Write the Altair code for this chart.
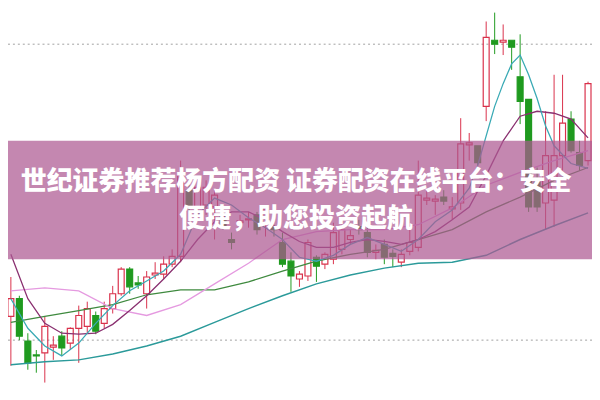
import altair as alt
import pandas as pd

# ---- candle data (price units) ----
opens = [9.24, 9.42, 8.99, 8.85, 8.87, 8.93, 9.04, 8.97, 9.12, 9.14,
         9.25, 9.17, 9.32, 9.47, 9.72, 9.58, 9.47, 9.66, 9.67, 9.77,
         9.85, 10.52, 10.35, 10.37, 10.35, 10.27, 10.02, 10.19, 10.22, 10.27,
         10.19, 10.15, 9.99, 9.80, 9.62, 9.65, 9.84, 9.77, 9.82, 9.92,
         10.02, 10.15, 10.09, 9.89, 9.97, 9.88, 9.79, 9.90, 9.94, 10.42,
         10.41, 10.45, 10.33, 10.39, 10.98, 10.97, 11.37, 12.04, 12.02, 12.04,
         11.67, 11.44, 10.60, 10.39, 10.42, 10.87, 11.24, 10.90, 10.82]
closes = [9.42, 9.04, 8.77, 8.84, 9.14, 8.95, 8.92, 9.12, 9.25, 9.32,
          9.09, 9.32, 9.47, 9.72, 9.54, 9.56, 9.64, 9.68, 9.77, 9.85,
          10.67, 10.35, 10.55, 10.55, 10.47, 10.15, 9.99, 10.21, 10.23, 10.12,
          10.32, 10.12, 9.77, 9.65, 9.67, 9.99, 9.75, 9.87, 10.09, 10.12,
          10.06, 10.12, 9.89, 9.91, 9.84, 9.85, 9.87, 9.99, 10.47, 10.44,
          10.43, 10.41, 10.35, 10.99, 11.00, 10.80, 12.07, 12.00, 12.04, 11.97,
          11.42, 10.35, 10.35, 10.87, 10.87, 11.20, 10.92, 10.77, 11.60]
highs = [9.64, 9.45, 9.07, 8.90, 9.24, 9.04, 9.09, 9.13, 9.35, 9.39,
         9.29, 9.39, 9.55, 9.74, 9.74, 9.65, 9.70, 9.79, 9.85, 9.92,
         10.82, 10.59, 10.64, 10.62, 10.52, 10.32, 10.09, 10.27, 10.30, 10.30,
         10.34, 10.17, 10.09, 9.89, 9.70, 10.02, 9.86, 9.89, 10.19, 10.17,
         10.12, 10.22, 10.14, 9.97, 10.02, 9.92, 9.92, 10.12, 10.82, 10.52,
         10.47, 10.52, 10.45, 11.25, 11.10, 10.97, 12.23, 12.32, 12.20, 12.04,
         12.10, 11.44, 10.75, 11.32, 11.69, 11.69, 11.32, 11.02, 11.62]
lows = [8.74, 9.00, 8.70, 8.67, 8.57, 8.80, 8.84, 8.90, 8.77, 9.07,
        9.06, 9.12, 9.27, 9.45, 9.47, 9.52, 9.32, 9.62, 9.62, 9.74,
        9.79, 10.30, 10.22, 10.27, 10.02, 10.12, 9.92, 10.12, 10.14, 10.07,
        10.05, 10.05, 9.74, 9.49, 9.54, 9.60, 9.59, 9.72, 9.77, 9.87,
        9.97, 10.07, 9.84, 9.82, 9.77, 9.74, 9.74, 9.86, 9.90, 10.37,
        10.27, 10.37, 10.22, 10.32, 10.82, 10.77, 11.22, 11.90, 11.89, 11.74,
        11.19, 10.30, 10.30, 10.12, 10.15, 10.72, 10.90, 10.72, 10.77]

# ---- moving-average lines ----
slow_idx = list(range(0, 69, 4))
ma60 = [8.75, 8.78, 8.80, 8.86, 8.94, 9.04, 9.18, 9.32, 9.45, 9.57, 9.66, 9.73,
        9.78, 9.79, 9.86, 10.02, 10.16, 10.29]
ma20 = [9.18, 9.24, 9.30, 9.36, 9.46, 9.51, 9.51, 9.59, 9.70, 9.80, 9.87, 9.92,
        10.02, 10.12, 10.30, 10.45, 10.62, 10.75]
ma30 = [9.50, 9.53, 9.50, 9.32, 9.25, 9.36, 9.57, 9.78, 10.02, 10.10, 10.12, 10.12,
        10.17, 10.34, 10.57, 10.70, 10.82, 10.92]
ma10_idx = list(range(0, 69, 2))
ma10 = [9.87, 9.42, 9.17, 9.07, 9.06, 9.07, 9.16, 9.30, 9.45, 9.62, 9.80, 10.02,
        10.20, 10.30, 10.30, 10.22, 10.10, 10.00, 9.94, 9.94, 9.99, 10.02, 10.00,
        9.97, 10.02, 10.10, 10.22, 10.35, 10.67, 11.02, 11.27, 11.32, 11.30, 11.24,
        11.05]
ma5_idx = [0, 2, 4, 6, 8, 10, 12, 14, 16, 18, 20, 22, 24, 26, 28, 30, 32, 34, 36,
           38, 40, 42, 44, 46, 48, 50, 52, 54, 55, 56, 57, 58, 59, 60, 61, 62, 63,
           64, 66, 68]
ma5 = [9.42, 9.12, 8.94, 8.84, 8.97, 9.17, 9.35, 9.50, 9.60, 9.70, 9.87, 10.27,
       10.44, 10.37, 10.24, 10.14, 10.02, 9.84, 9.80, 9.86, 9.97, 10.04, 9.97,
       9.90, 10.02, 10.20, 10.32, 10.54, 10.77, 11.07, 11.37, 11.60, 11.80, 11.89,
       11.69, 11.45, 11.17, 10.97, 10.79, 10.74]

grid_prices = [12.0, 9.0]
banner_lines = ["世纪证券推荐杨方配资 证券配资在线平台：安全", "便捷，助您投资起航"]

RED = "#d9304a"
GREEN = "#1f9a1f"

df = pd.DataFrame({"i": list(range(len(opens))), "o": opens, "c": closes,
                   "h": highs, "l": lows})
df["up"] = df["c"] >= df["o"]
df["top"] = df[["o", "c"]].max(axis=1)
df["bot"] = df[["o", "c"]].min(axis=1)

xs = alt.Scale(domain=[-0.6857, 67.886], nice=False, zero=False)
ys = alt.Scale(domain=[8.42, 12.42], nice=False, zero=False)
X = alt.X("i:Q", scale=xs, axis=None)

def Y(f):
    return alt.Y(f + ":Q", scale=ys, axis=None)

base = alt.Chart(df)
col = alt.condition("datum.up", alt.value(RED), alt.value(GREEN))

wick_hi = base.mark_rule(strokeWidth=1, clip=True).encode(x=X, y=Y("h"), y2="top", color=col)
wick_lo = base.mark_rule(strokeWidth=1, clip=True).encode(x=X, y=Y("bot"), y2="l", color=col)
body = base.mark_bar(size=6, strokeWidth=1.2, clip=True).encode(
    x=X, y=Y("bot"), y2="top",
    fill=alt.condition("datum.up", alt.value("transparent"), alt.value(GREEN)),
    stroke=col,
)

def line(idx, vals, color, w=1.2):
    d = pd.DataFrame({"i": idx, "v": vals})
    return alt.Chart(d).mark_line(color=color, strokeWidth=w, clip=True).encode(x=X, y=Y("v"))

lines = [
    line(slow_idx, ma60, "#2b9a9a", 1.5),
    line(slow_idx, ma20, "#3f8a3f", 1.3),
    line(slow_idx, ma30, "#e59ae0", 1.3),
    line(ma10_idx, ma10, "#8a3070", 1.3),
    line(ma5_idx, ma5, "#3aaab5", 1.3),
]

grid = alt.Chart(pd.DataFrame({"p": grid_prices})).mark_rule(
    color="#a0a0a0", strokeDash=[2, 3], strokeWidth=1
).encode(y=Y("p"))

banner = alt.Chart(pd.DataFrame({"a": [0]})).mark_rect(
    color="#ad5991", opacity=0.72
).encode(x=alt.value(0), x2=alt.value(600), y=alt.value(140), y2=alt.value(260))

texts = []
for t, yy in zip(banner_lines, [182, 219]):
    texts.append(
        alt.Chart(pd.DataFrame({"t": [t]})).mark_text(
            font="Noto Sans CJK SC", fontSize=26.3, fontWeight=900, color="white",
            align="center", baseline="middle"
        ).encode(x=alt.value(300), y=alt.value(yy), text="t:N")
    )

chart = alt.layer(grid, wick_hi, wick_lo, body, *lines, banner, *texts).properties(
    width=600, height=400, autosize="none",
    padding={"left": -8, "top": -8, "right": 0, "bottom": 0},
).configure_view(strokeWidth=0)

chart.save("out.html", embed_options={"renderer": "svg", "actions": False})
